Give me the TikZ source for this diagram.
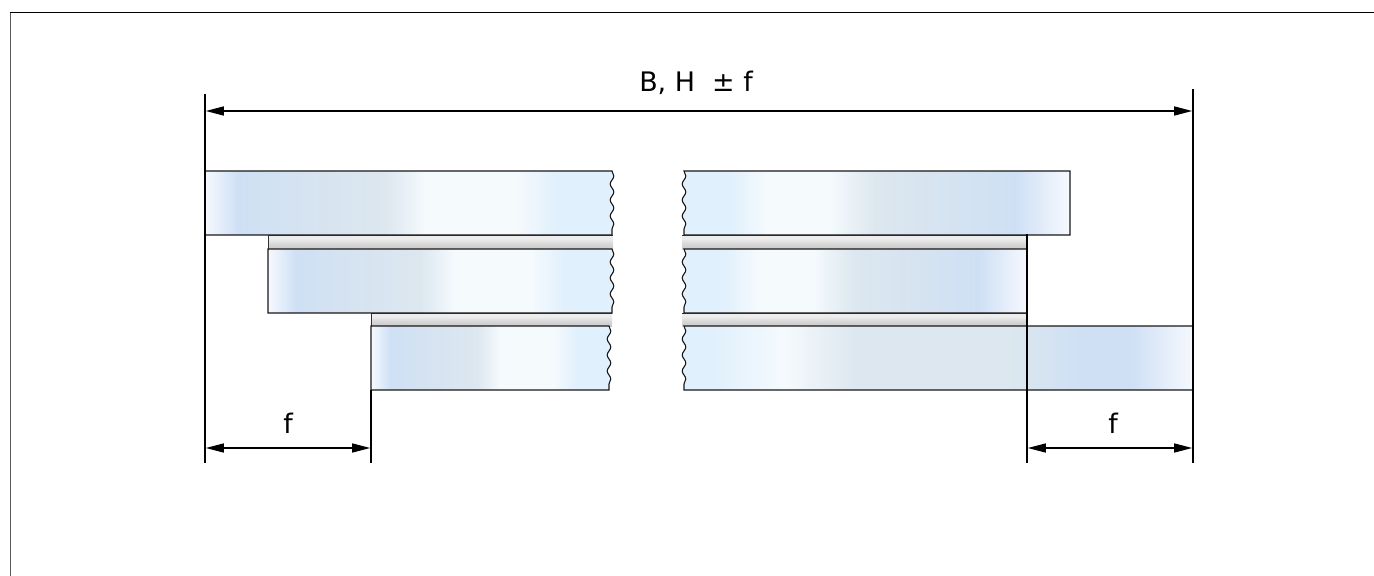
\documentclass[tikz,border=0pt]{standalone}
\usepackage{fontspec}
\setmainfont{DejaVu Sans}
\usetikzlibrary{arrows.meta,decorations.pathmorphing}
\definecolor{gW}{HTML}{F6F9FE}
\definecolor{gB}{HTML}{CFE0F5}
\definecolor{gG1}{HTML}{D5E3F1}
\definecolor{gG}{HTML}{DCE7EF}
\definecolor{gW2}{HTML}{F5FAFD}
\definecolor{gL}{HTML}{E0F0FC}
\definecolor{iA}{HTML}{EDEDED}
\definecolor{iB}{HTML}{D9D9D9}
\definecolor{iC}{HTML}{C9C9C9}
\pgfdeclarehorizontalshading{glassL}{100bp}{color(0bp)=(gW); color(25bp)=(gW); color(29bp)=(gB); color(36bp)=(gG1); color(47bp)=(gG); color(52bp)=(gW2); color(63bp)=(gW2); color(68bp)=(gL); color(75bp)=(gL); color(100bp)=(gL)}
\pgfdeclarehorizontalshading{glassR}{100bp}{color(0bp)=(gL); color(25bp)=(gL); color(31bp)=(gL); color(36bp)=(gW2); color(44bp)=(gW2); color(50bp)=(gG); color(60bp)=(gG1); color(68bp)=(gB); color(75bp)=(gW); color(100bp)=(gW)}
\pgfdeclarehorizontalshading{glassRL}{100bp}{color(0bp)=(gL); color(25bp)=(gL); color(28bp)=(gL); color(35bp)=(gW2); color(42bp)=(gG); color(57bp)=(gG); color(64bp)=(gB); color(69bp)=(gB); color(75bp)=(gW); color(100bp)=(gW)}
\pgfdeclareverticalshading{inter}{100bp}{color(0bp)=(iC); color(25bp)=(iC); color(45bp)=(iB); color(62bp)=(iA); color(75bp)=(iA); color(100bp)=(iA)}
\tikzset{
  pane/.style={draw=black!90, line width=1.1bp},
  wave/.style={decorate, decoration={snake, amplitude=1.8bp, segment length=16bp}},
  interl/.style={shading=inter},
  extline/.style={line width=1.6bp, black},
  dimline/.style={line width=1.4bp, black, {Triangle[length=18bp,width=9bp]}-{Triangle[length=18bp,width=9bp]}},
  label/.style={font=\fontsize{27}{31}\selectfont, inner sep=0pt, anchor=base},
  frameline/.style={line width=1bp}
}
\begin{document}
\begin{tikzpicture}[x=1bp, y=-1bp]
\useasboundingbox (0,0) rectangle (1374,576);
% frame
\draw[frameline, black] (10,13) -- (1374,13);
\draw[frameline, black!65] (10,13) -- (10,576);
% interlayers
\shade[interl] (268,235) rectangle (613,249);
\shade[interl] (371,313) rectangle (612,326);
\shade[interl] (682,235) rectangle (1027,249);
\shade[interl] (682,313) rectangle (1027,326);
\draw[black!80, line width=0.9bp] (268,249) -- (268,235) -- (613,235);
\draw[black!80, line width=0.9bp] (371,326) -- (371,313) -- (612,313);
\draw[black!80, line width=0.9bp] (682,235) -- (1027,235);
\draw[black!80, line width=0.9bp] (682,313) -- (1027,313);
% left panes
\shade[pane, shading=glassL] (205,171) -- (612,171) decorate[wave] {-- (612,235)} -- (205,235) -- cycle;
\shade[pane, shading=glassL] (268,249) -- (612,249) decorate[wave] {-- (612,313)} -- (268,313) -- cycle;
\shade[pane, shading=glassL] (371,326) -- (609,326) decorate[wave] {-- (609,390)} -- (371,390) -- cycle;
% right panes
\shade[pane, shading=glassR] (1070,171) -- (684,171) decorate[wave] {-- (684,235)} -- (1070,235) -- cycle;
\shade[pane, shading=glassR] (1027,249) -- (684,249) decorate[wave] {-- (684,313)} -- (1027,313) -- cycle;
\shade[pane, shading=glassRL] (1193,326) -- (684,326) decorate[wave] {-- (684,390)} -- (1193,390) -- cycle;
% extension lines
\coordinate (e1t) at (205,94);   \coordinate (e1b) at (205,463);
\coordinate (e2t) at (1193,89);  \coordinate (e2b) at (1193,463);
\coordinate (e3t) at (371,390);  \coordinate (e3b) at (371,463);
\coordinate (e4t) at (1027,234); \coordinate (e4b) at (1027,463);
\draw[extline] (e1t) -- (e1b);
\draw[extline] (e2t) -- (e2b);
\draw[extline] (e3t) -- (e3b);
\draw[extline] (e4t) -- (e4b);
% dimension lines
\coordinate (d1a) at (205,111); \coordinate (d1b) at (1193,111);
\coordinate (d2a) at (205,448); \coordinate (d2b) at (371,448);
\coordinate (d3a) at (1027,448); \coordinate (d3b) at (1193,448);
\draw[dimline, shorten <=0.8bp, shorten >=0.8bp] (d1a) -- (d1b);
\draw[dimline, shorten <=0.8bp, shorten >=0.8bp] (d2a) -- (d2b);
\draw[dimline, shorten <=0.8bp, shorten >=0.8bp] (d3a) -- (d3b);
% labels
\node[label] (bh) at (696,92) {B, H\ \ ± f};
\node[label] (f1) at (288,433) {f};
\node[label] (f2) at (1113,433) {f};
\end{tikzpicture}
\end{document}
